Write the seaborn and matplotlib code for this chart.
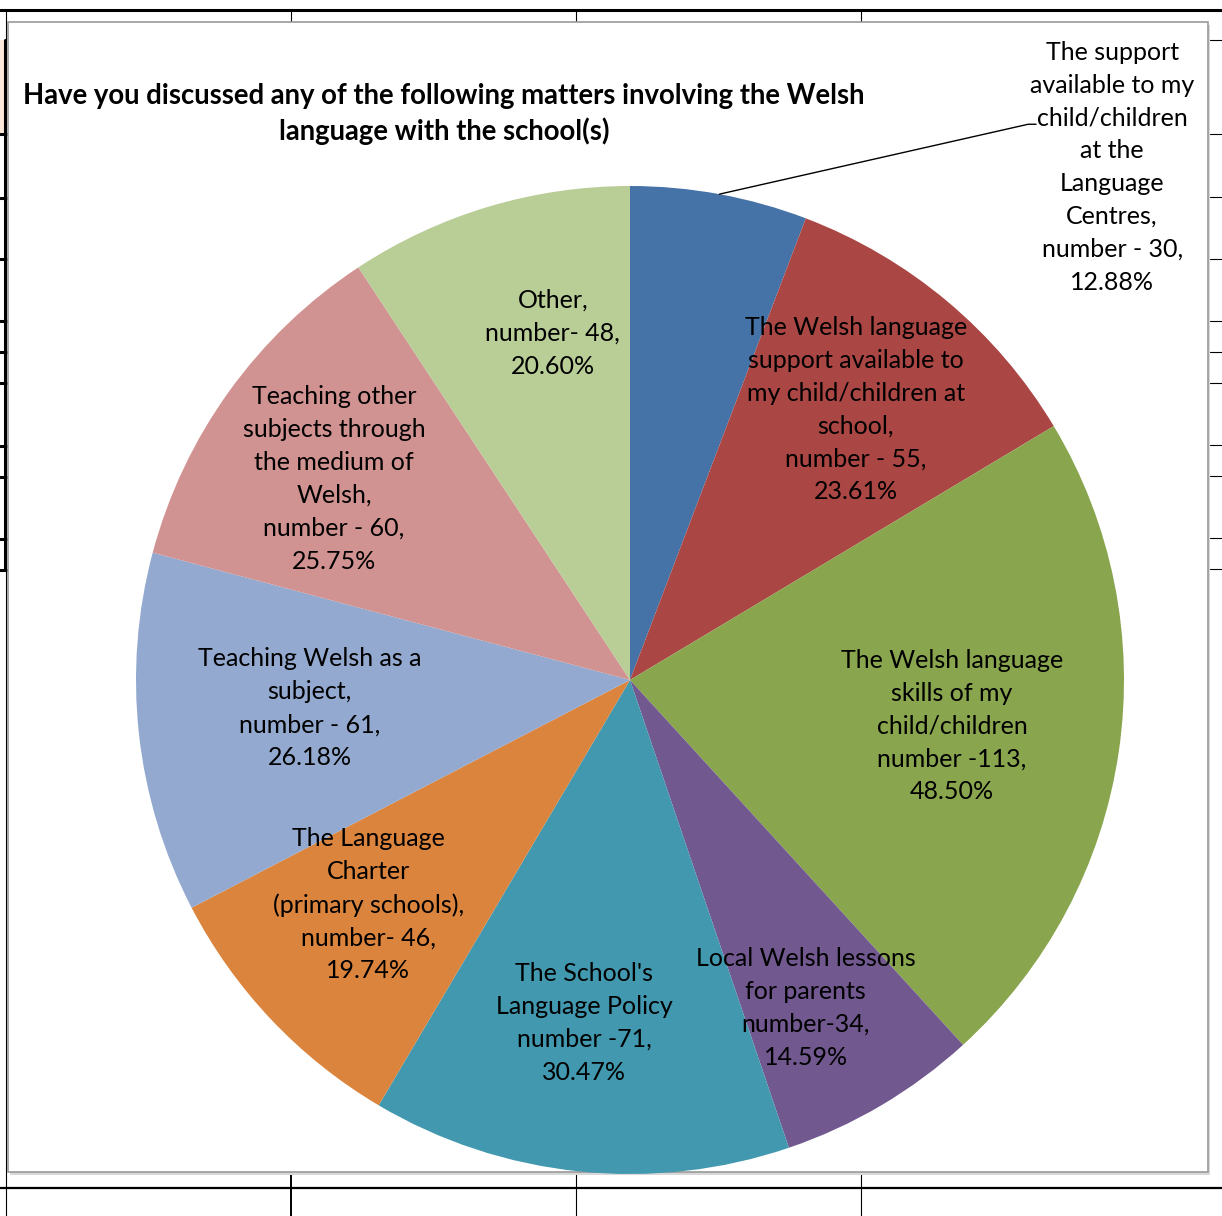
import numpy as np
import seaborn as sns
import matplotlib.pyplot as plt
from matplotlib.lines import Line2D
from matplotlib.patches import Rectangle

# answers, counted clockwise from 12 o'clock
labels = [
    "The support\navailable to my\nchild/children\nat the\nLanguage\nCentres,\nnumber - 30,\n12.88%",
    "The Welsh language\nsupport available to\nmy child/children at\nschool,\nnumber - 55,\n23.61%",
    "The Welsh language\nskills of my\nchild/children\nnumber -113,\n48.50%",
    "Local Welsh lessons\nfor parents\nnumber-34,\n14.59%",
    "The School's\nLanguage Policy\nnumber -71,\n30.47%",
    "The Language\nCharter\n(primary schools),\nnumber- 46,\n19.74%",
    "Teaching Welsh as a\nsubject,\nnumber - 61,\n26.18%",
    "Teaching other\nsubjects through\nthe medium of\nWelsh,\nnumber - 60,\n25.75%",
    "Other,\nnumber- 48,\n20.60%",
]
counts = [30, 55, 113, 34, 71, 46, 61, 60, 48]
colors = ["#4572A7", "#AA4643", "#89A54E", "#71588F", "#4198AF",
          "#DB843D", "#93A9CF", "#D19392", "#B9CD96"]
title = ("Have you discussed any of the following matters involving the Welsh\n"
         "language with the school(s)")

# where the data labels sit (pie radius units), as placed in the original
label_xy = [(0.976, 1.038), (0.457, 0.547), (0.652, -0.093), (0.356, -0.664),
            (-0.093, -0.694), (-0.530, -0.455), (-0.648, -0.057),
            (-0.599, 0.407), (-0.156, 0.702)]

sns.set_style("white")
plt.rcParams['font.family'] = ['Lato', 'DejaVu Sans']
plt.rcParams['text.color'] = 'black'

W, H = 1222, 1216
fig = plt.figure(figsize=(W / 100, H / 100), dpi=100)

# spreadsheet behind the chart
def hline(y, x0=0, x1=W, lw=1.0):
    fig.add_artist(Line2D([x0 / W, x1 / W], [1 - y / H, 1 - y / H], color="black",
                          lw=lw, zorder=-5))

def vline(x, y0, y1, lw=0.8):
    fig.add_artist(Line2D([x / W, x / W], [1 - y0 / H, 1 - y1 / H], color="black",
                          lw=lw, zorder=-5))

fig.add_artist(Rectangle((0, 1 - 134 / H), 5 / W, 94 / H, transform=fig.transFigure,
                         facecolor="#FCE9DA", edgecolor="none", zorder=-6))
hline(10, lw=2.2)
hline(1188, lw=1.6)
for x in [291, 576, 861]:
    vline(x, 10, 22)
    vline(x, 1172, H, lw=1.4 if x == 291 else 0.8)
vline(6, 10, 40)
vline(5, 40, 570, lw=2.2)
vline(6, 570, 1172)
vline(6, 1172, H)
for y in [134, 198, 259, 321, 352, 383, 446, 477, 539, 570]:
    hline(y, 0, 8, lw=2.2)
for y in [40, 134, 197, 259, 321, 352, 383, 445, 476, 538, 569]:
    hline(y, 1210, W, lw=0.8)

# chart frame with a faint shadow
fig.add_artist(Rectangle((10 / W, 1 - 1175 / H), 1200 / W, 1150 / H, transform=fig.transFigure,
                         facecolor="#d8d8d8", edgecolor="none", zorder=-4))
fig.add_artist(Rectangle((8 / W, 1 - 1172 / H), 1200 / W, 1150 / H, transform=fig.transFigure,
                         facecolor="white", edgecolor="#9a9a9a", lw=1.2, zorder=-3))

cx, cy, r = 630, 680, 494
ax = fig.add_axes([(cx - r) / W, (H - cy - r) / H, 2 * r / W, 2 * r / H])
ax.set_zorder(2)
ax.patch.set_visible(False)
wedges, texts = ax.pie(counts, colors=colors, startangle=90, counterclock=False,
                       labels=[""] + labels[1:], labeldistance=0.7,
                       wedgeprops=dict(linewidth=0),
                       textprops=dict(fontsize=18, ha="center", va="center",
                                      linespacing=1.52, color="black"))
for t, xy in zip(texts[1:], label_xy[1:]):
    t.set_position(xy)
ax.set_xlim(-1, 1)
ax.set_ylim(-1, 1)
ax.set_aspect("equal")
ax.axis("off")

# first slice label sits outside with a leader line
w0 = wedges[0]
mid = np.deg2rad((w0.theta1 + w0.theta2) / 2)
ax.annotate(labels[0], xy=(np.cos(mid), np.sin(mid)), xytext=label_xy[0],
            fontsize=18, ha="center", va="center", linespacing=1.52,
            annotation_clip=False)
ax.plot([np.cos(mid), 0.806, 0.822], [np.sin(mid), 1.125, 1.125], color="black",
        lw=1.0, clip_on=False)

fig.text(444 / W, 1 - 114 / H, title, fontsize=19.8, fontweight="bold",
         ha="center", va="center", linespacing=1.36, color="black", zorder=3)

fig.savefig("out.png", dpi=100)
